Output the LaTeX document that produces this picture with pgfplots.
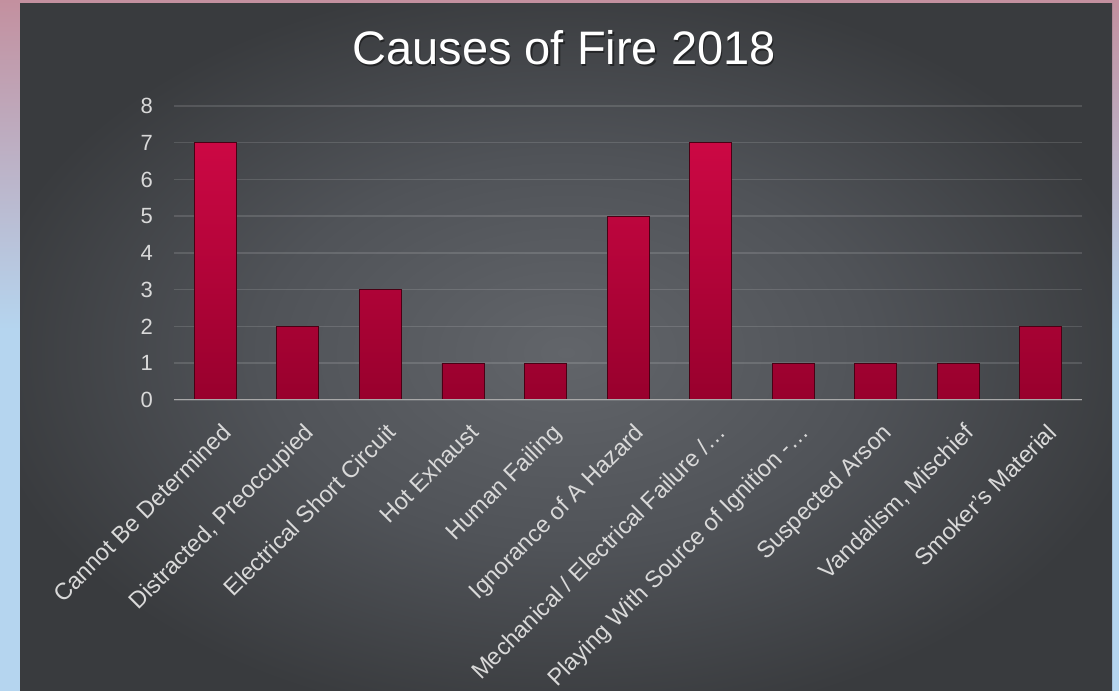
\documentclass[border=0pt]{standalone}
\usepackage{fontspec}
\setmainfont{Liberation Sans}
\usepackage{pgfplots}
\pgfplotsset{compat=1.18}
\definecolor{bgpink}{HTML}{C3909F}
\definecolor{bgblue}{HTML}{B5D5EF}
\definecolor{panelin}{HTML}{62656A}
\definecolor{panelmid}{HTML}{505358}
\definecolor{panelout}{HTML}{393B3E}
\definecolor{lbl}{HTML}{D9D9D9}
\definecolor{bartop}{HTML}{CC0844}
\definecolor{barbot}{HTML}{98002D}
\definecolor{baredge}{HTML}{4A0014}
\definecolor{axisln}{HTML}{A8A8A8}
\pgfdeclareradialshading{panelshade}{\pgfpoint{0bp}{0bp}}{color(0bp)=(panelin); color(14bp)=(panelmid); color(27bp)=(panelout); color(50bp)=(panelout)}
\begin{document}
\begin{tikzpicture}[x=1bp,y=1bp]
\useasboundingbox (0,0) rectangle (1119,691);
\fill[bgblue] (0,0) rectangle (1119,691);
\shade[top color=bgpink, bottom color=bgblue] (0,361) rectangle (1119,691);
\shade[shading=panelshade] (20,-10) rectangle (1112,687);
\node[anchor=base, text=black, opacity=0.45] at (565.5,624.5) {\fontsize{47bp}{52bp}\selectfont Causes of Fire 2018};
\node[anchor=base, text=white] at (564,626) {\fontsize{47bp}{52bp}\selectfont Causes of Fire 2018};
\begin{axis}[
  at={(174bp,291bp)}, anchor=south west,
  scale only axis, width=908bp, height=294bp,
  ymin=0, ymax=8, xmin=-0.5, xmax=10.5,
  ytick={0,...,8}, xtick={0,...,10},
  xticklabels={Cannot Be Determined, {Distracted, Preoccupied}, Electrical Short Circuit, Hot Exhaust, Human Failing, Ignorance of A Hazard, Mechanical / Electrical Failure /…, Playing With Source of Ignition -…, Suspected Arson, {Vandalism, Mischief}, Smoker's Material},
  ybar, bar width=42bp,
  axis line style={draw=none},
  major tick length=0pt,
  ymajorgrids,
  major grid style={white, opacity=0.13, line width=1.5bp},
  /pgf/number format/assume math mode=true,
  tick label style={text=lbl},
  yticklabel style={font=\fontsize{22bp}{24bp}\selectfont, inner sep=0pt, xshift=-21bp},
  xticklabel style={font=\fontsize{23.5bp}{26bp}\selectfont, inner sep=0pt, xshift=5bp, yshift=-22bp, rotate=45, anchor=north east},
]
\addplot[draw=baredge, line width=0.8bp, top color=bartop, bottom color=barbot] coordinates {(0,7) (1,2) (2,3) (3,1) (4,1) (5,5) (6,7) (7,1) (8,1) (9,1) (10,2)};
\draw[axisln, line width=2bp] (axis cs:-0.5,0) -- (axis cs:10.5,0);
\end{axis}
\end{tikzpicture}
\end{document}
